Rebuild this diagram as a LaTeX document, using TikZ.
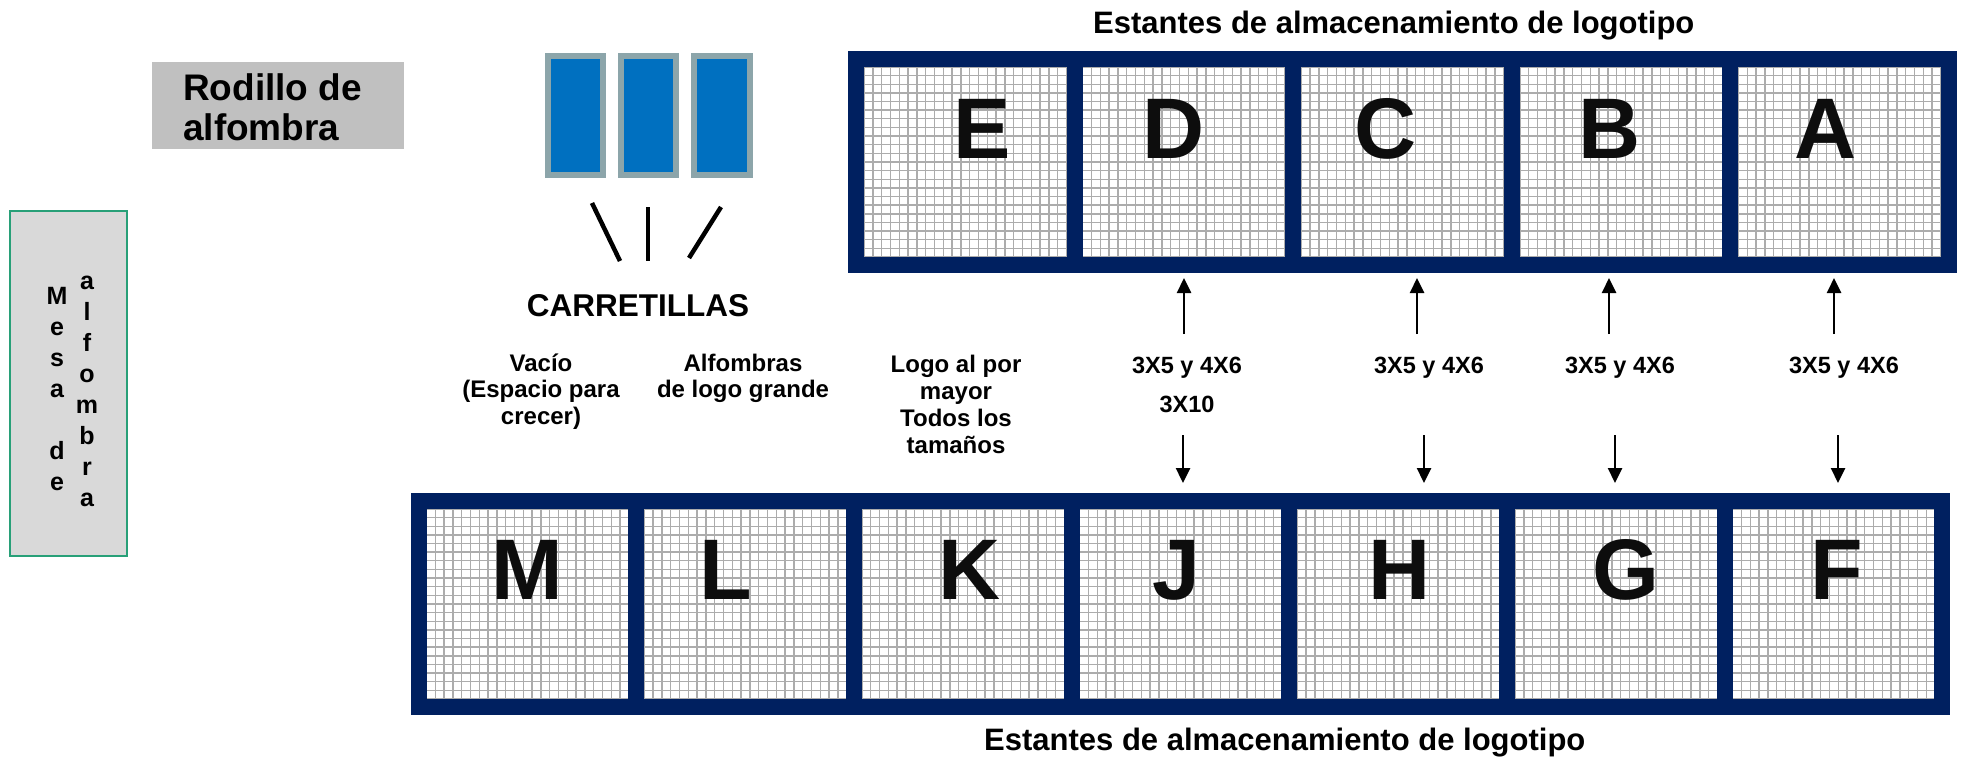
\documentclass[tikz,border=0pt]{standalone}
\usepackage{fontspec}
\setmainfont{Liberation Sans}
\usetikzlibrary{arrows.meta,calc}
\definecolor{navy}{RGB}{0,32,96}
\definecolor{cartblue}{RGB}{0,112,192}
\definecolor{cartedge}{RGB}{140,165,170}
\definecolor{rodgray}{RGB}{192,192,192}
\definecolor{mesagray}{RGB}{217,217,217}
\definecolor{mesaedge}{RGB}{40,160,120}
\definecolor{gridgray}{RGB}{172,172,172}
\newcommand\stk[1]{\begin{tabular}[t]{@{}c@{}}#1\end{tabular}}
\newcommand\stkl[1]{\begin{tabular}[t]{@{}l@{}}#1\end{tabular}}
\tikzset{
  gridln/.style={draw=gridgray, line width=1.4pt},
  gridfill/.style={path picture={
    \foreach \k in {0,...,23}
      \draw[gridln] ([xshift=8pt+\k*8.8pt]path picture bounding box.south west) -- ([xshift=8pt+\k*8.8pt]path picture bounding box.north west);
    \foreach \k in {0,...,22}
      \draw[gridln] ([yshift=8pt+\k*8.64pt]path picture bounding box.south west) -- ([yshift=8pt+\k*8.64pt]path picture bounding box.south east);
  }},
  shelfbox/.style={rectangle, draw=navy, fill=white, line width=16pt, inner sep=0pt, outer sep=8pt, minimum height=206pt, gridfill},
  shelftop/.style={shelfbox, minimum width=218.6pt},
  shelfbot/.style={shelfbox, minimum width=217.7pt},
  bigl/.style={anchor=base, inner sep=0pt, font=\fontsize{86}{86}\selectfont\bfseries, text=black!95},
  ttl/.style={anchor=base west, inner sep=0pt, font=\fontsize{31}{36}\selectfont\bfseries},
  lbl/.style={anchor=base, inner sep=0pt, font=\fontsize{24}{26.5}\selectfont\bfseries},
  szl/.style={anchor=base, inner sep=0pt, font=\fontsize{23.5}{27}\selectfont\bfseries},
  cart/.style={rectangle, fill=cartblue, draw=cartedge, line width=6pt, inner sep=0pt, minimum width=55pt, minimum height=119pt},
  arr/.style={line width=2.5pt, -{Triangle[length=15pt,width=14pt]}},
  stroke/.style={line width=4.5pt},
}
\begin{document}
\begin{tikzpicture}[x=1pt,y=-1pt]
\useasboundingbox (0,0) rectangle (1964,763);
\fill[white] (0,0) rectangle (1964,763);

% titles
\node[ttl] (ttop) at (1093,33) {Estantes de almacenamiento de logotipo};
\node[ttl] (tbot) at (984,750) {Estantes de almacenamiento de logotipo};

% top shelves
\node[shelftop] (sE) at (965.3,162) {};
\node[shelftop] (sD) at (1183.9,162) {};
\node[shelftop] (sC) at (1402.5,162) {};
\node[shelftop] (sB) at (1621.1,162) {};
\node[shelftop] (sA) at (1839.7,162) {};
\node[bigl] (lE) at (982,158) {E};
\node[bigl] (lD) at (1174,158) {D};
\node[bigl] (lC) at (1386,158) {C};
\node[bigl] (lB) at (1610,158) {B};
\node[bigl] (lA) at (1826,158) {A};

% bottom shelves
\node[shelfbot] (sM) at (527.35,604) {};
\node[shelfbot] (sL) at (745.05,604) {};
\node[shelfbot] (sK) at (962.75,604) {};
\node[shelfbot] (sJ) at (1180.45,604) {};
\node[shelfbot] (sH) at (1398.15,604) {};
\node[shelfbot] (sG) at (1615.85,604) {};
\node[shelfbot] (sF) at (1833.55,604) {};
\node[bigl] (lM) at (527,599) {M};
\node[bigl] (lL) at (726,599) {L};
\node[bigl] (lK) at (970,599) {K};
\node[bigl] (lJ) at (1176,599) {J};
\node[bigl] (lH) at (1400,599) {H};
\node[bigl] (lG) at (1626,599) {G};
\node[bigl] (lF) at (1837,599) {F};

% carpet roller
\node[rectangle, fill=rodgray, inner sep=0pt, minimum width=252pt, minimum height=87pt] (rod) at (278,105.5) {};
\node[anchor=base west, inner sep=0pt, font=\fontsize{37}{40}\selectfont\bfseries] (rodt) at (183,100) {\stkl{Rodillo de\\alfombra}};

% carpet table
\node[rectangle, fill=mesagray, draw=mesaedge, line width=1.5pt, inner sep=0pt, minimum width=117pt, minimum height=345pt] (mesa) at (68.5,383.5) {};
\node[anchor=base, inner sep=0pt, font=\fontsize{25}{31}\selectfont\bfseries] (mesa1) at (57,304) {\stk{M\\e\\s\\a\\ \\d\\e}};
\node[anchor=base, inner sep=0pt, font=\fontsize{25}{31}\selectfont\bfseries] (mesa2) at (87,289) {\stk{a\\l\\f\\o\\m\\b\\r\\a}};

% carts
\node[cart] (cart1) at (575.5,115.5) {};
\node[cart] (cart2) at (648.5,115.5) {};
\node[cart, minimum width=56pt] (cart3) at (722,115.5) {};
\coordinate (c1a) at (592,203); \coordinate (c1b) at (620,261);
\coordinate (c2a) at (648,207); \coordinate (c2b) at (648,261);
\coordinate (c3a) at (721,207); \coordinate (c3b) at (689,258);
\draw[stroke] (c1a) -- (c1b);
\draw[stroke] (c2a) -- (c2b);
\draw[stroke] (c3a) -- (c3b);
\node[anchor=base, inner sep=0pt, font=\fontsize{31.5}{36}\selectfont\bfseries] (carr) at (638,316) {CARRETILLAS};

% zone labels
\node[lbl] (vacio) at (541,371) {\stk{Vacío\\(Espacio para\\crecer)}};
\node[lbl] (alfg) at (743,371) {\stk{Alfombras\\de logo grande}};
\node[lbl, font=\fontsize{24}{27}\selectfont\bfseries] (logo) at (956,372) {\stk{Logo al por\\mayor\\Todos los\\tamaños}};

% size labels
\node[szl] (z1) at (1187,373) {3X5 y 4X6};
\node[szl] (z1b) at (1187,412) {3X10};
\node[szl] (z2) at (1429,373) {3X5 y 4X6};
\node[szl] (z3) at (1620,373) {3X5 y 4X6};
\node[szl] (z4) at (1844,373) {3X5 y 4X6};

% up arrows
\coordinate (uD) at (1184,334);
\coordinate (uC) at (1417,334);
\coordinate (uB) at (1609,334);
\coordinate (uA) at (1834,334);
\draw[arr, shorten >=5pt] (uD) -- (uD |- sD.south);
\draw[arr, shorten >=5pt] (uC) -- (uC |- sC.south);
\draw[arr, shorten >=5pt] (uB) -- (uB |- sB.south);
\draw[arr, shorten >=5pt] (uA) -- (uA |- sA.south);

% down arrows
\coordinate (dJ) at (1183,435);
\coordinate (dH) at (1424,435);
\coordinate (dG) at (1615,435);
\coordinate (dF) at (1838,435);
\draw[arr, shorten >=10pt] (dJ) -- (dJ |- sJ.north);
\draw[arr, shorten >=10pt] (dH) -- (dH |- sH.north);
\draw[arr, shorten >=10pt] (dG) -- (dG |- sG.north);
\draw[arr, shorten >=10pt] (dF) -- (dF |- sF.north);
\end{tikzpicture}
\end{document}
